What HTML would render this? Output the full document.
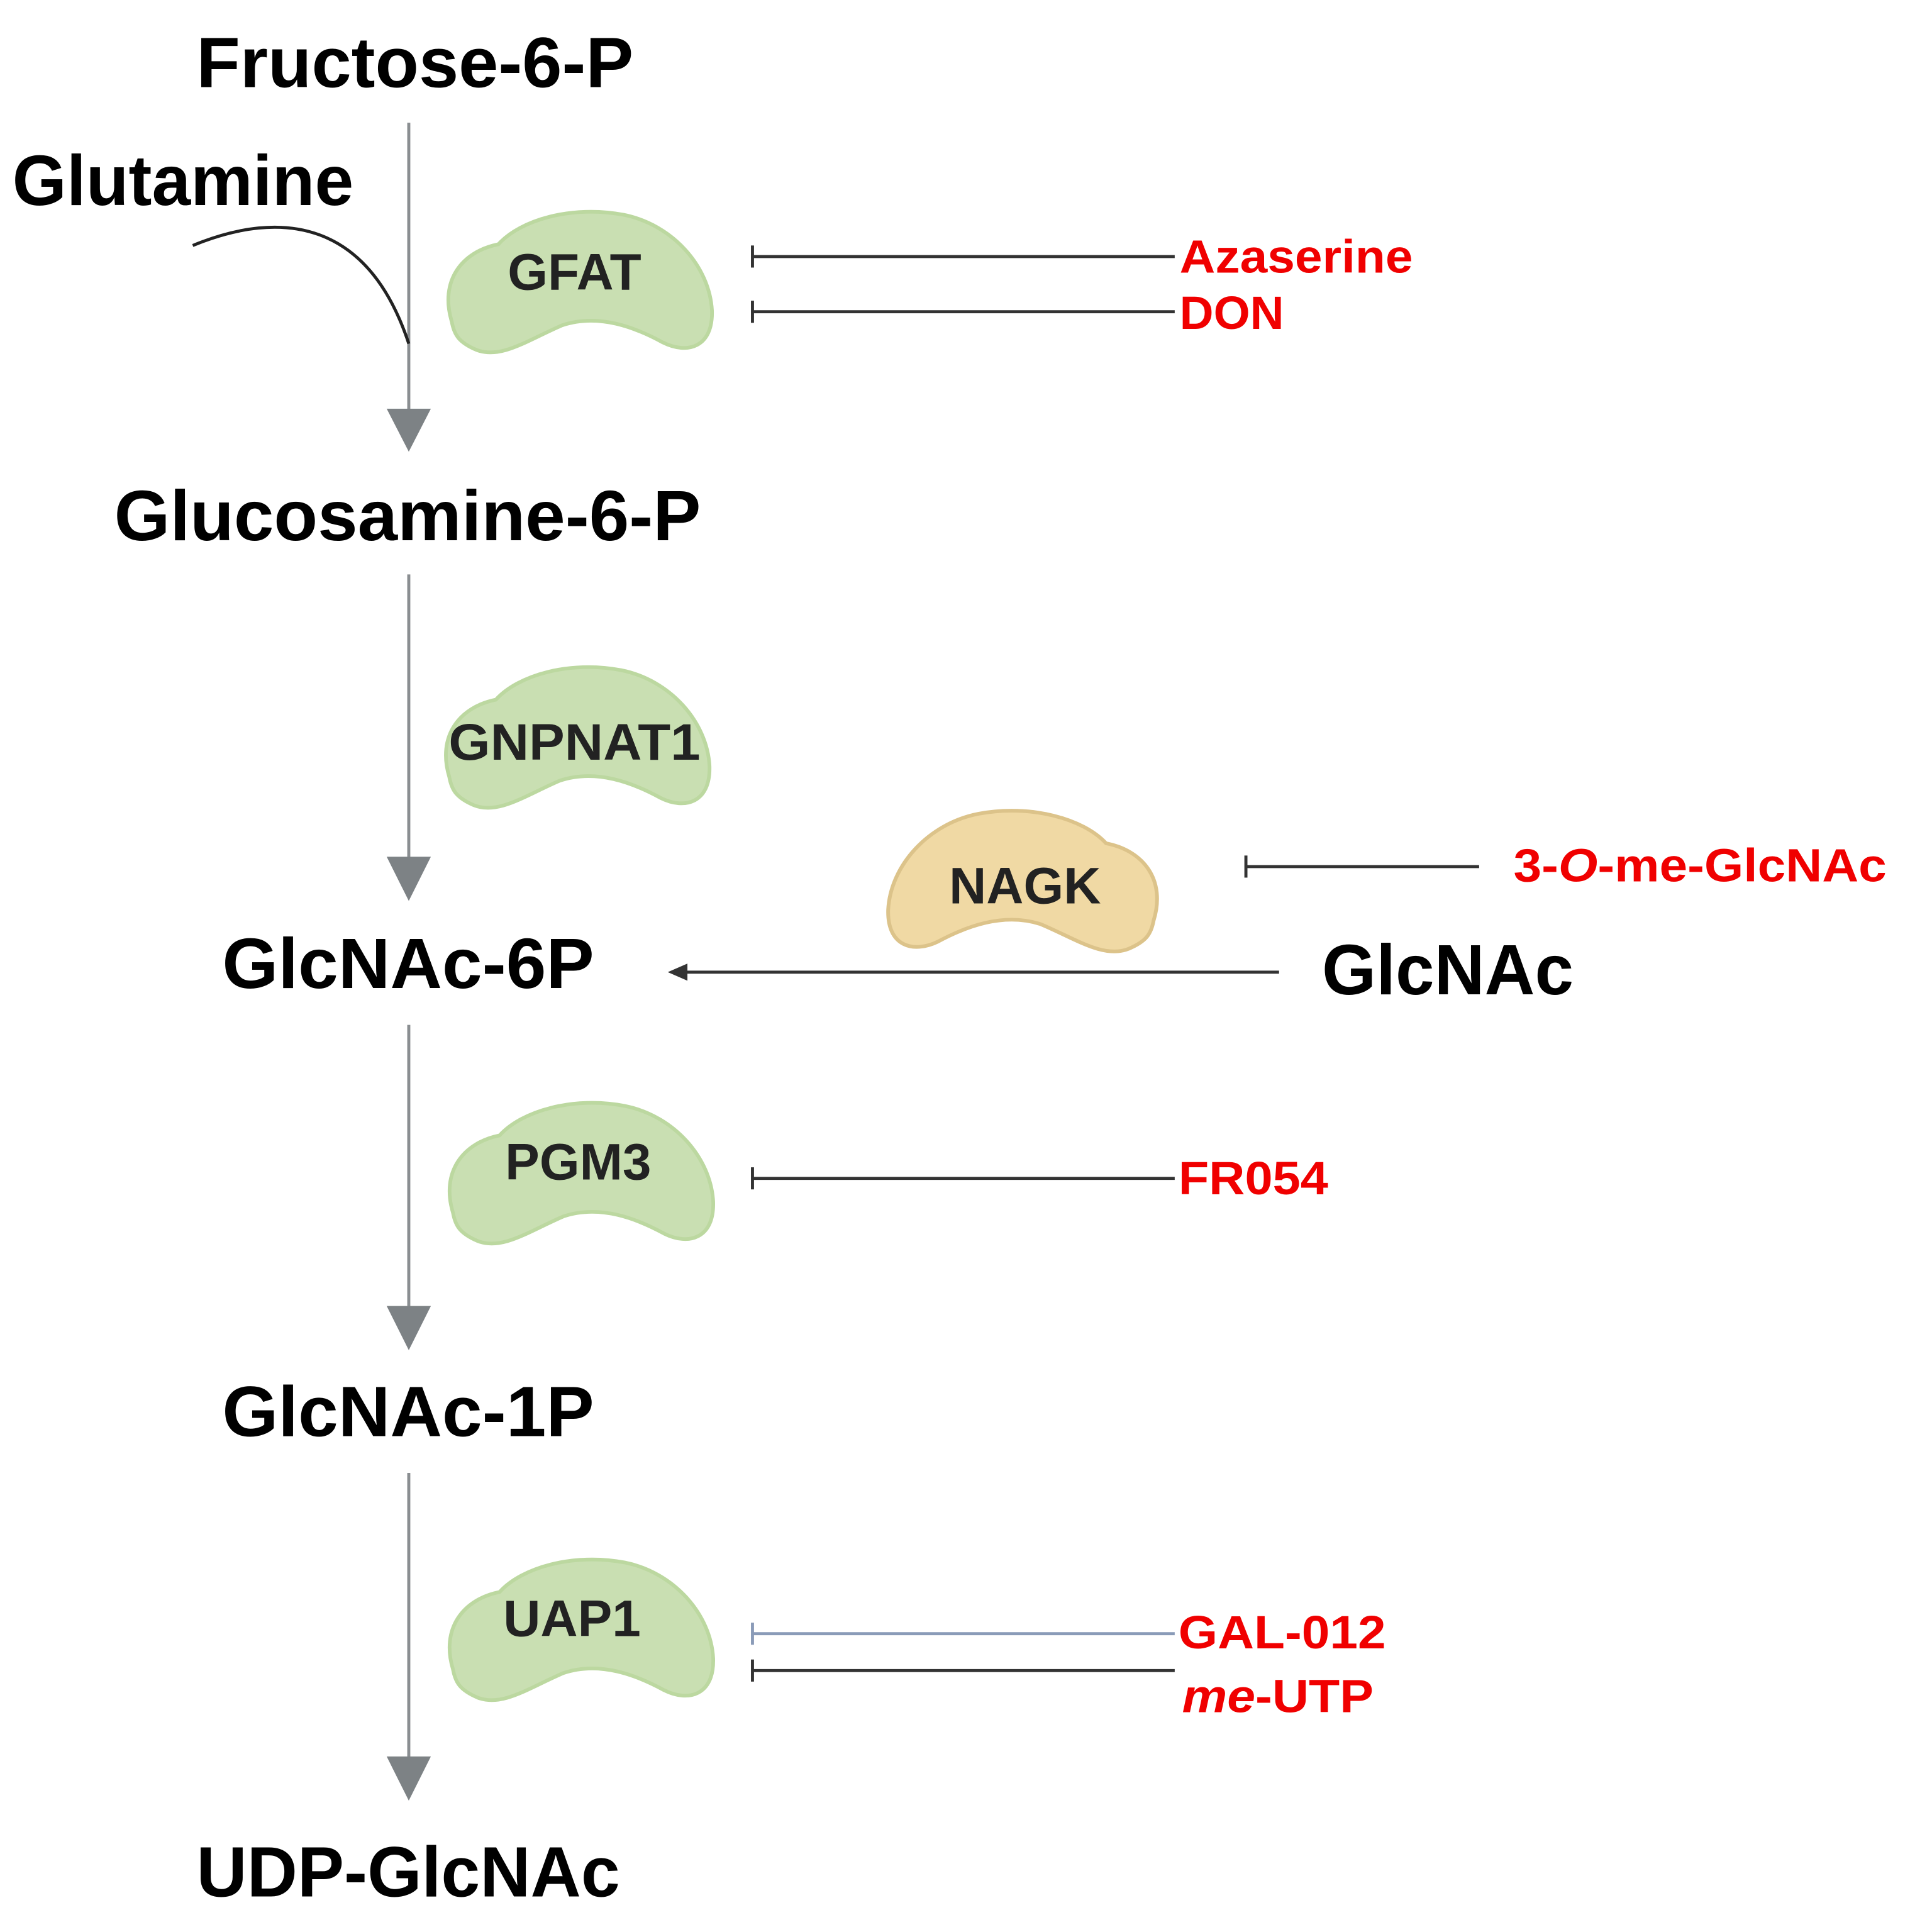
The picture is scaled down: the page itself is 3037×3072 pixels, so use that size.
<!DOCTYPE html>
<html><head><meta charset="utf-8"><style>html,body{margin:0;padding:0;background:#fff}svg{display:block}</style></head>
<body>
<svg xmlns="http://www.w3.org/2000/svg" width="3037" height="3072" viewBox="0 0 1556 1574" font-family="'Liberation Sans', Arial, sans-serif" font-weight="bold">
<defs>
<path id="blob" d="M10,95 C0,62 18,38 48,32 C66,12 108,0 150,8 C190,16 220,50 222,86 C223,116 202,122 182,112 C160,100 130,88 100,98 C72,110 50,126 30,118 C16,112 12,106 10,95 Z"/>
</defs>
<rect width="1556" height="1574" fill="#fff"/>
<!-- main vertical arrows -->
<g stroke="#8a8e91" stroke-width="2.5">
<line x1="333" y1="100" x2="333" y2="336"/>
<line x1="333" y1="468" x2="333" y2="700"/>
<line x1="333" y1="835" x2="333" y2="1066"/>
<line x1="333" y1="1200" x2="333" y2="1433"/>
</g>
<g fill="#7d8285">
<polygon points="315,333 351,333 333,368"/>
<polygon points="315,698 351,698 333,734"/>
<polygon points="315,1064 351,1064 333,1100"/>
<polygon points="315,1431 351,1431 333,1467"/>
</g>
<path d="M157,200 C230,170 300,180 333,280" fill="none" stroke="#222" stroke-width="2.5"/>
<!-- enzymes -->
<g fill="#c9dfb2" stroke="#bcd8a0" stroke-width="3">
<use href="#blob" transform="translate(358,167)"/>
<use href="#blob" transform="translate(356,538)"/>
<use href="#blob" transform="translate(359,893)"/>
<use href="#blob" transform="translate(359,1265)"/>
</g>
<use href="#blob" transform="translate(950,655) scale(-1.02,1)" fill="#f0d9a4" stroke="#dcc38a" stroke-width="3"/>
<g fill="#222" font-size="42" text-anchor="middle">
<text x="468" y="236">GFAT</text>
<text x="468" y="619" textLength="205" lengthAdjust="spacingAndGlyphs">GNPNAT1</text>
<text x="471" y="961">PGM3</text>
<text x="466" y="1333">UAP1</text>
<text x="835" y="736">NAGK</text>
</g>
<!-- inhibitor lines -->
<g stroke="#333" stroke-width="2.5">
<line x1="613" y1="209" x2="957" y2="209"/><line x1="613" y1="200" x2="613" y2="218"/>
<line x1="613" y1="254" x2="957" y2="254"/><line x1="613" y1="245" x2="613" y2="263"/>
<line x1="1015" y1="706" x2="1205" y2="706"/><line x1="1015" y1="697" x2="1015" y2="715"/>
<line x1="613" y1="960" x2="957" y2="960"/><line x1="613" y1="951" x2="613" y2="969"/>
<line x1="613" y1="1361" x2="957" y2="1361"/><line x1="613" y1="1352" x2="613" y2="1370"/>
<line x1="548" y1="792" x2="1042" y2="792"/>
</g>
<g stroke="#8a9bb8" stroke-width="2.5">
<line x1="613" y1="1331" x2="957" y2="1331"/><line x1="613" y1="1322" x2="613" y2="1340"/>
</g>
<polygon points="544,792 560,785 560,799" fill="#333"/>
<!-- labels -->
<g fill="#000" font-size="58">
<text x="160" y="71" textLength="356" lengthAdjust="spacingAndGlyphs">Fructose-6-P</text>
<text x="10" y="167" textLength="278" lengthAdjust="spacingAndGlyphs">Glutamine</text>
<text x="93" y="440" textLength="478" lengthAdjust="spacingAndGlyphs">Glucosamine-6-P</text>
<text x="181" y="805" textLength="303" lengthAdjust="spacingAndGlyphs">GlcNAc-6P</text>
<text x="1077" y="810" textLength="205" lengthAdjust="spacingAndGlyphs">GlcNAc</text>
<text x="181" y="1170" textLength="303" lengthAdjust="spacingAndGlyphs">GlcNAc-1P</text>
<text x="160" y="1545" textLength="345" lengthAdjust="spacingAndGlyphs">UDP-GlcNAc</text>
</g>
<g fill="#f00000" font-size="38">
<text x="961" y="222" textLength="190" lengthAdjust="spacingAndGlyphs">Azaserine</text>
<text x="961" y="268" textLength="85" lengthAdjust="spacingAndGlyphs">DON</text>
<text x="1233" y="718" textLength="304" lengthAdjust="spacingAndGlyphs">3-<tspan font-style="italic">O</tspan>-me-GlcNAc</text>
<text x="960" y="973" textLength="122" lengthAdjust="spacingAndGlyphs">FR054</text>
<text x="960" y="1343" textLength="169" lengthAdjust="spacingAndGlyphs">GAL-012</text>
<text x="963" y="1395" textLength="156" lengthAdjust="spacingAndGlyphs"><tspan font-style="italic">me</tspan>-UTP</text>
</g>
</svg>
</body></html>
